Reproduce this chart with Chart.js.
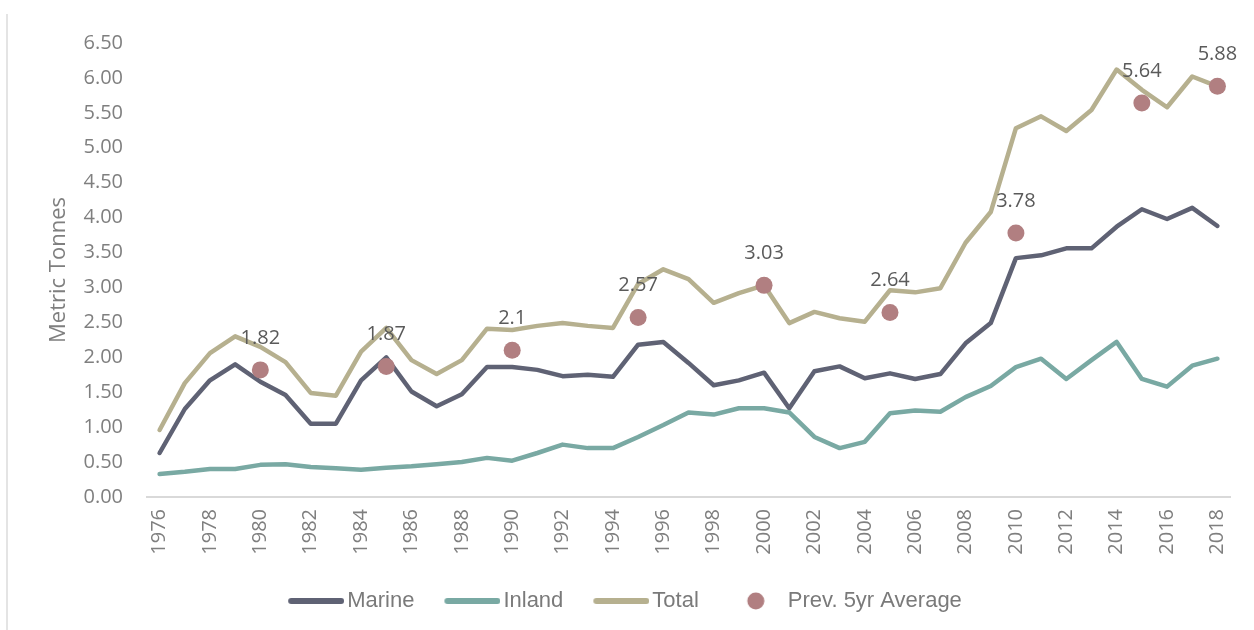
<!DOCTYPE html>
<html>
<head>
<meta charset="utf-8">
<script src="https://cdn.jsdelivr.net/npm/chart.js@4/dist/chart.umd.min.js"></script>
<style>
  html, body { margin: 0; padding: 0; background: #fff; }
  #wrap { position: relative; width: 1254px; height: 630px; }
  #frame { position: absolute; left: 6px; top: 14px; height: 616px; border-left: 2px solid #e4e4e4; }
</style>
</head>
<body>
<div id="wrap">
  <canvas id="chart" width="1254" height="630"></canvas>
  <div id="frame"></div>
</div>
<script>
const years = [1976, 1977, 1978, 1979, 1980, 1981, 1982, 1983, 1984, 1985, 1986, 1987, 1988, 1989, 1990,
  1991, 1992, 1993, 1994, 1995, 1996, 1997, 1998, 1999, 2000, 2001, 2002, 2003, 2004, 2005,
  2006, 2007, 2008, 2009, 2010, 2011, 2012, 2013, 2014, 2015, 2016, 2017, 2018];

const marine = [0.63, 1.26, 1.67, 1.90, 1.65, 1.46, 1.05, 1.05, 1.67, 2.00, 1.51, 1.30, 1.47, 1.86, 1.86,
  1.82, 1.73, 1.75, 1.72, 2.18, 2.22, 1.92, 1.60, 1.67, 1.78, 1.27, 1.80, 1.87, 1.70, 1.77,
  1.69, 1.76, 2.20, 2.49, 3.42, 3.46, 3.56, 3.56, 3.87, 4.12, 3.98, 4.14, 3.88];

const inland = [0.33, 0.36, 0.40, 0.40, 0.46, 0.47, 0.43, 0.41, 0.39, 0.42, 0.44, 0.47, 0.50, 0.56, 0.52,
  0.63, 0.75, 0.70, 0.70, 0.86, 1.03, 1.21, 1.18, 1.27, 1.27, 1.21, 0.86, 0.70, 0.79, 1.20,
  1.24, 1.22, 1.43, 1.59, 1.86, 1.98, 1.69, 1.96, 2.22, 1.69, 1.58, 1.88, 1.98];

const total = [0.96, 1.63, 2.06, 2.30, 2.15, 1.93, 1.49, 1.45, 2.08, 2.42, 1.96, 1.76, 1.96, 2.41, 2.39,
  2.45, 2.49, 2.45, 2.42, 3.05, 3.26, 3.12, 2.78, 2.92, 3.03, 2.49, 2.65, 2.56, 2.51, 2.96,
  2.93, 2.99, 3.64, 4.08, 5.28, 5.45, 5.24, 5.54, 6.12, 5.83, 5.58, 6.02, 5.88];

const prevYears = [1980, 1985, 1990, 1995, 2000, 2005, 2010, 2015, 2018];
const prevAvg = [1.82, 1.87, 2.1, 2.57, 3.03, 2.64, 3.78, 5.64, 5.88];

const seriesNames = ['Marine', 'Inland', 'Total', 'Prev. 5yr Average'];
const colors = ['#5f6274', '#79a9a3', '#b6b08f', '#b17f81'];

const prevData = years.map(y => {
  const k = prevYears.indexOf(y);
  return k >= 0 ? prevAvg[k] : null;
});

Chart.defaults.font.family = "'Open Sans', sans-serif";

// little canvases used as legend symbols (line segment / dot)
function lineSymbol(color) {
  const c = document.createElement('canvas');
  c.width = 84; c.height = 8;
  const g = c.getContext('2d');
  g.strokeStyle = color; g.lineWidth = 6; g.lineCap = 'round';
  g.beginPath(); g.moveTo(31, 4); g.lineTo(81, 4); g.stroke();
  return c;
}
function dotSymbol(color) {
  const c = document.createElement('canvas');
  c.width = 44; c.height = 20;
  const g = c.getContext('2d');
  g.fillStyle = color;
  g.beginPath(); g.arc(35, 10, 8.5, 0, Math.PI * 2); g.fill();
  return c;
}

const pointLabels = {
  id: 'pointLabels',
  afterDatasetsDraw(chart) {
    const ctx = chart.ctx;
    const meta = chart.getDatasetMeta(3);
    ctx.save();
    ctx.font = "20px 'Open Sans'";
    ctx.fillStyle = '#5a5a5a';
    ctx.textAlign = 'center';
    ctx.textBaseline = 'middle';
    meta.data.forEach((pt, i) => {
      const v = prevData[i];
      if (v === null) return;
      ctx.fillText(String(v), pt.x, pt.y - 32);
    });
    ctx.restore();
  }
};

const lineSet = (i, data) => ({
  label: seriesNames[i],
  data: data,
  borderColor: colors[i],
  backgroundColor: colors[i],
  borderWidth: 4.5,
  borderJoinStyle: 'round',
  borderCapStyle: 'round',
  pointRadius: 0,
  tension: 0,
  order: 4 - i
});

new Chart('chart', {
  type: 'line',
  data: {
    labels: years,
    datasets: [
      lineSet(0, marine),
      lineSet(1, inland),
      lineSet(2, total),
      {
        label: seriesNames[3],
        data: prevData,
        showLine: false,
        pointRadius: 8.5,
        pointHoverRadius: 8.5,
        pointBackgroundColor: colors[3],
        pointBorderWidth: 0,
        borderColor: colors[3],
        backgroundColor: colors[3],
        order: 0
      }
    ]
  },
  options: {
    responsive: false,
    animation: false,
    layout: { padding: { left: 0, right: 24, top: 43, bottom: 8 } },
    plugins: {
      tooltip: { enabled: false },
      legend: {
        position: 'bottom',
        labels: {
          usePointStyle: true,
          pointStyleWidth: 68,
          padding: 10,
          color: '#7a7a7a',
          font: { family: "'Liberation Sans', sans-serif", size: 22 },
          generateLabels: () => seriesNames.map((name, i) => ({
            text: name,
            datasetIndex: i,
            fontColor: '#7a7a7a',
            pointStyle: i < 3 ? lineSymbol(colors[i]) : dotSymbol(colors[i]),
            fillStyle: colors[i],
            strokeStyle: colors[i],
            lineWidth: 0,
            hidden: false
          }))
        }
      }
    },
    scales: {
      x: {
        offset: true,
        grid: { display: false, drawTicks: false },
        border: { display: true, color: '#d9d9d9', width: 2 },
        ticks: {
          autoSkip: false,
          minRotation: 90,
          maxRotation: 90,
          padding: 12,
          color: '#7f7f7f',
          font: { size: 20 },
          callback: (v, i) => (i % 2 === 0 ? String(years[i]) : '')
        },
        afterFit: s => { s.height = 83; }
      },
      y: {
        min: 0,
        max: 6.5,
        grid: { display: false, drawTicks: false },
        border: { display: false },
        ticks: {
          stepSize: 0.5,
          padding: 24,
          color: '#7f7f7f',
          font: { size: 20 },
          callback: v => v.toFixed(2)
        },
        title: {
          display: true,
          text: 'Metric Tonnes',
          color: '#7f7f7f',
          font: { size: 22 },
          padding: { top: 46, bottom: 0 }
        },
        afterFit: s => { s.width = 147; }
      }
    }
  },
  plugins: [pointLabels]
});
</script>
</body>
</html>
